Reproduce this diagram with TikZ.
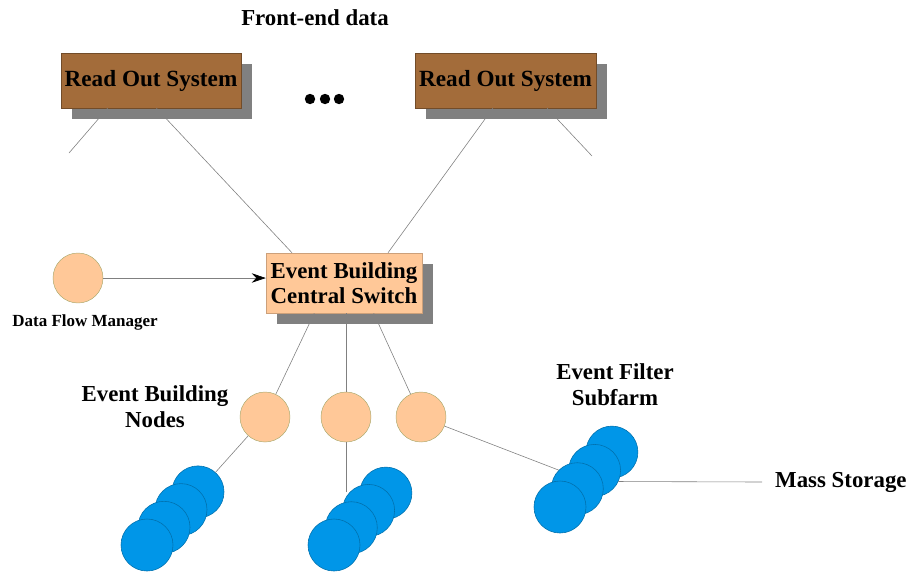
\documentclass[tikz,border=0pt]{standalone}
\usepackage{fontspec}
\setmainfont{Liberation Serif}
\usetikzlibrary{arrows.meta, positioning, calc, shadows}

\definecolor{rosbrown}{RGB}{163,108,58}
\definecolor{peach}{RGB}{255,200,152}
\definecolor{farmblue}{RGB}{0,150,232}
\definecolor{shade}{RGB}{128,128,128}

\begin{document}
\begin{tikzpicture}[
    x=0.03cm, y=-0.03cm,
    every node/.style = {font=\fontsize{19.5}{22}\selectfont\bfseries},
    rosbox/.style = {
        rectangle,
        draw=rosbrown!70!black,
        fill=rosbrown,
        minimum width=5.4cm,
        minimum height=1.65cm,
        font=\fontsize{19.8}{22}\selectfont\bfseries,
        drop shadow={shadow xshift=0.33cm, shadow yshift=-0.33cm,
                     fill=shade, opacity=1}
    },
    switchbox/.style = {
        rectangle,
        draw=peach!80!black,
        fill=peach,
        minimum width=4.68cm,
        minimum height=1.8cm,
        align=center,
        font=\fontsize{19.5}{21}\selectfont\bfseries,
        drop shadow={shadow xshift=0.33cm, shadow yshift=-0.33cm,
                     fill=shade, opacity=1}
    },
    ctrl/.style = {
        circle,
        draw={rgb,255:red,170;green,170;blue,110},
        line width=0.4pt,
        fill=peach,
        minimum size=1.5cm,
        inner sep=0pt
    },
    farm/.style = {
        circle,
        draw=farmblue!75!black,
        line width=0.5pt,
        fill=farmblue,
        minimum size=1.56cm,
        inner sep=0pt
    },
    link/.style = {
        line width=0.5pt,
        color=gray
    },
    arr/.style = {
        -{Stealth[length=12pt,width=8pt,color=black]},
        line width=0.5pt,
        color=gray
    }
]
\useasboundingbox (0,0) rectangle (908,574);

%% Title
\node (title) at (315,18) {Front-end data};

%% Read-out systems
\node[rosbox] (ros1) at (151,80.5) {Read Out System};
\node[rosbox] (ros2) at (505.5,80.5) {Read Out System};
\foreach \dx in {0,15,29}
    \fill (310+\dx,99) circle (5.2);

%% Loose ends of the read-out links
\coordinate (free1) at (69,153);
\coordinate (free2) at (592,156);

%% Central switch and flow manager
\node[switchbox] (ebs) at (344,283) {Event Building\\Central Switch};
\node[ctrl] (dfm) at (78,278) {};
\node[font=\fontsize{14.5}{16}\selectfont\bfseries] (dfmlabel) at (85,322) {Data Flow Manager};

%% Event building nodes
\node[ctrl] (ebn1) at (265,417) {};
\node[ctrl] (ebn2) at (346,417) {};
\node[ctrl] (ebn3) at (421,417) {};
\node[align=center] (ebnlabel) at (155,407) {Event Building\\Nodes};

%% Processor stacks, drawn back to front
\foreach \i in {4,3,2,1} {
    \node[farm] (sa\i) at ({147+17*(\i-1)},{545-17.7*(\i-1)}) {};
}
\foreach \i in {4,3,2,1} {
    \node[farm] (sb\i) at ({334+17.3*(\i-1)},{545-17.3*(\i-1)}) {};
}
\foreach \i in {4,3,2,1} {
    \node[farm] (sc\i) at ({560+17.3*(\i-1)},{507-18.3*(\i-1)}) {};
}
\node[align=center] (eflabel) at (615,385) {Event Filter\\Subfarm};
\node[anchor=west, inner xsep=0.39cm] (mass) at (762,482) {Mass Storage};

%% Links
\draw[link] ($(ros1.south west)!0.26!(ros1.south east)$) -- (free1);
\draw[link] ($(ros1.south west)!0.53!(ros1.south east)$) -- (ebs.north west -| 292,0);
\draw[link] ($(ros2.south west)!0.43!(ros2.south east)$) -- (ebs.north west -| 388,0);
\draw[link] ($(ros2.south west)!0.73!(ros2.south east)$) -- (free2);
\draw[arr]  (dfm) -- (ebs.west |- dfm);
\draw[link] ($(ebs.south west)!0.31!(ebs.south east)$) -- (ebn1);
\draw[link] (ebs.south -| ebn2) -- (ebn2);
\draw[link] ($(ebs.south west)!0.69!(ebs.south east)$) -- (ebn3);
\draw[link] (ebn1) -- (sa4);
\draw[link] (ebn2.south) -- (ebn2.south |- sb3.north west);
\draw[link] (ebn3) -- (sc2.north west);
\draw[link] (sc3.-25) -- (mass.west);

\end{tikzpicture}
\end{document}
